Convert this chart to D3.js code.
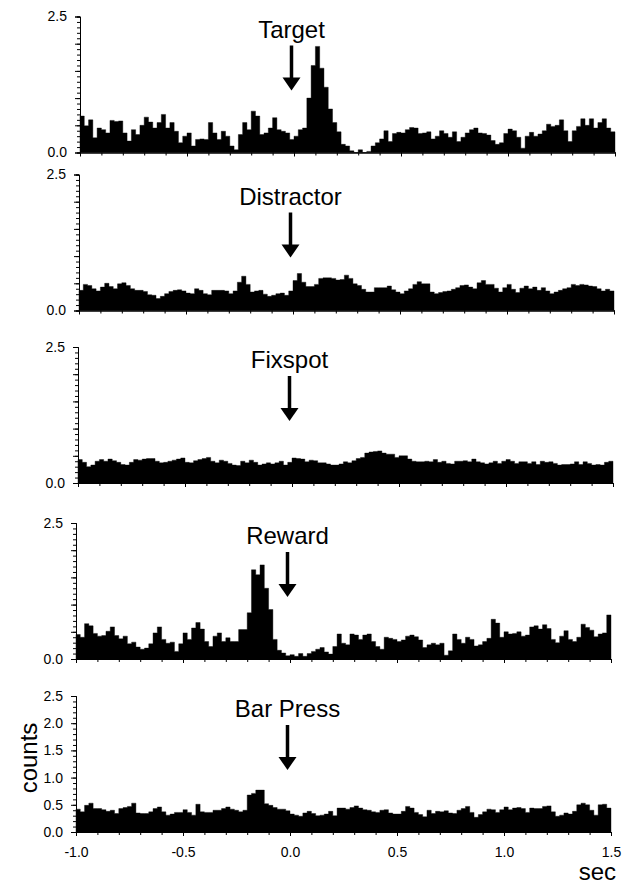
<!DOCTYPE html>
<html>
<head>
<meta charset="utf-8">
<script src="https://cdn.jsdelivr.net/npm/d3@7"></script>
<style>
  body { margin: 0; background: white; }
  svg { display: block; }
  text { font-family: "Liberation Sans", Arial, Helvetica, sans-serif; }
</style>
</head>
<body>
<div id="holder"></div>
<script>
// panel titles
var titles = ["Target", "Distractor", "Fixspot", "Reward", "Bar Press"];

// bin start times (20 ms bins from -1.0 to 1.5 sec)
var binWidth = 0.02;

// counts per bin, one array per panel
var target = [0.67,0.49,0.6,0.27,0.45,0.42,0.36,0.59,0.57,0.58,0.36,0.21,0.42,0.33,0.5,0.65,0.56,0.45,0.55,0.7,
  0.45,0.55,0.39,0.18,0.3,0.36,0.12,0.24,0.25,0.24,0.55,0.36,0.24,0.39,0.3,0.12,0.05,0.33,0.55,0.42,
  0.76,0.67,0.33,0.36,0.45,0.64,0.42,0.39,0.36,0.24,0.3,0.42,0.45,1.0,1.6,1.95,
  1.55,1.2,0.8,0.55,0.38,0.15,0.12,0.03,0.0,0.05,0.0,0.02,0.12,0.18,0.25,0.4,0.2,0.35,0.37,0.36,
  0.42,0.46,0.45,0.35,0.36,0.38,0.25,0.3,0.4,0.35,0.28,0.38,0.2,0.28,0.36,0.42,0.45,0.36,0.35,0.32,
  0.22,0.15,0.18,0.35,0.43,0.4,0.28,0.08,0.3,0.37,0.3,0.34,0.4,0.52,0.48,0.5,0.6,0.4,0.2,0.4,
  0.48,0.62,0.5,0.62,0.45,0.55,0.62,0.45,0.38];

var distractor = [0.37,0.48,0.46,0.4,0.36,0.43,0.5,0.44,0.4,0.49,0.51,0.46,0.4,0.37,0.37,0.35,0.29,0.28,0.22,0.26,
  0.31,0.35,0.37,0.38,0.36,0.32,0.31,0.4,0.37,0.31,0.29,0.37,0.37,0.37,0.36,0.31,0.36,0.52,0.63,0.48,
  0.34,0.36,0.37,0.3,0.26,0.28,0.31,0.32,0.28,0.36,0.55,0.68,0.52,0.44,0.44,0.48,
  0.59,0.6,0.6,0.59,0.56,0.57,0.65,0.59,0.49,0.46,0.39,0.34,0.34,0.42,0.42,0.42,0.45,0.38,0.34,0.31,
  0.36,0.4,0.48,0.53,0.49,0.49,0.34,0.31,0.33,0.35,0.36,0.39,0.42,0.46,0.47,0.43,0.4,0.51,0.55,0.48,
  0.48,0.41,0.34,0.42,0.48,0.39,0.33,0.41,0.45,0.4,0.43,0.37,0.42,0.36,0.31,0.34,0.37,0.4,0.42,0.48,
  0.46,0.48,0.47,0.45,0.44,0.4,0.36,0.39,0.36];

var fixspot = [0.43,0.38,0.3,0.33,0.4,0.43,0.4,0.44,0.41,0.38,0.34,0.33,0.38,0.43,0.42,0.44,0.45,0.45,0.4,0.37,
  0.38,0.4,0.42,0.44,0.46,0.38,0.37,0.41,0.43,0.45,0.47,0.4,0.37,0.42,0.4,0.36,0.33,0.32,0.4,0.37,
  0.42,0.38,0.33,0.35,0.37,0.35,0.37,0.4,0.33,0.38,0.46,0.45,0.44,0.39,0.42,0.41,
  0.37,0.37,0.35,0.33,0.33,0.35,0.39,0.37,0.41,0.45,0.47,0.55,0.57,0.58,0.59,0.55,0.53,0.53,0.47,0.5,
  0.5,0.44,0.4,0.39,0.39,0.4,0.39,0.43,0.38,0.4,0.36,0.35,0.4,0.4,0.41,0.39,0.44,0.39,0.37,0.35,
  0.37,0.4,0.36,0.4,0.43,0.4,0.36,0.39,0.39,0.36,0.39,0.34,0.4,0.38,0.39,0.36,0.33,0.34,0.34,0.35,
  0.39,0.34,0.39,0.36,0.33,0.34,0.33,0.38,0.4];

var reward = [0.45,0.4,0.65,0.61,0.47,0.42,0.43,0.51,0.59,0.43,0.37,0.42,0.28,0.31,0.22,0.18,0.2,0.28,0.48,0.59,
  0.36,0.29,0.31,0.14,0.28,0.48,0.36,0.57,0.67,0.55,0.32,0.23,0.42,0.48,0.32,0.39,0.32,0.32,0.54,0.54,
  0.85,1.64,1.55,1.73,1.3,0.91,0.36,0.16,0.11,0.06,0.08,0.05,0.1,0.05,0.1,0.14,
  0.18,0.21,0.13,0.09,0.23,0.46,0.29,0.26,0.46,0.44,0.36,0.44,0.46,0.32,0.23,0.18,0.4,0.38,0.36,0.32,
  0.35,0.42,0.44,0.41,0.35,0.21,0.26,0.29,0.26,0.29,0.07,0.15,0.46,0.36,0.29,0.4,0.36,0.24,0.26,0.32,
  0.38,0.73,0.66,0.4,0.5,0.46,0.47,0.5,0.42,0.44,0.59,0.61,0.55,0.63,0.56,0.36,0.3,0.42,0.52,0.36,
  0.32,0.4,0.64,0.58,0.53,0.41,0.46,0.48,0.81];

var barPress = [0.42,0.37,0.49,0.53,0.43,0.43,0.41,0.38,0.4,0.34,0.43,0.45,0.47,0.53,0.35,0.34,0.34,0.37,0.43,0.46,
  0.37,0.31,0.33,0.36,0.36,0.41,0.36,0.31,0.51,0.37,0.36,0.36,0.4,0.4,0.43,0.46,0.42,0.4,0.37,0.4,
  0.68,0.71,0.77,0.77,0.52,0.49,0.45,0.42,0.42,0.39,0.33,0.31,0.29,0.35,0.38,0.34,
  0.3,0.31,0.33,0.38,0.3,0.44,0.44,0.42,0.45,0.48,0.44,0.41,0.4,0.37,0.36,0.4,0.41,0.35,0.33,0.33,
  0.38,0.47,0.44,0.36,0.32,0.28,0.4,0.34,0.38,0.37,0.39,0.35,0.34,0.4,0.43,0.47,0.36,0.27,0.32,0.37,
  0.42,0.41,0.36,0.41,0.46,0.41,0.44,0.45,0.43,0.36,0.44,0.43,0.43,0.47,0.48,0.37,0.29,0.31,0.35,0.33,
  0.38,0.5,0.53,0.5,0.4,0.31,0.5,0.51,0.44];

var series = [target, distractor, fixspot, reward, barPress];

// axis ticks
var yMinorTicks = d3.range(0, 26).map(function(i) { return i / 10; });
var yMajorTicks = [0, 0.5, 1.0, 1.5, 2.0, 2.5];
var xMinorTicks = d3.range(-10, 16).map(function(i) { return i / 10; });
var xMajorTicks = [-1.0, -0.5, 0.0, 0.5, 1.0, 1.5];

// layout: where each panel sits on the page (scan is a little skewed)
var panelTop = [16.5, 174.5, 347, 523, 696];
var panelLeft = [80, 79, 78, 76, 76];
var labelShift = [0, 9, 0, 0, 0];
var panelW = 535, panelH = 136;

var svg = d3.select("#holder")
            .append("svg")
            .attr("width", 637)
            .attr("height", 887);

// plain hyphen for negatives, like the original figure
var fmt = d3.formatLocale({decimal: ".", thousands: ",", grouping: [3], currency: ["", ""], minus: "-"}).format(".1f");

series.forEach(function(values, p) {
  var last = p === series.length - 1;

  var g = svg.append("g")
             .attr("transform", "translate(" + panelLeft[p] + "," + panelTop[p] + ")");

  var x = d3.scaleLinear().domain([-1.0, 1.5]).range([0, panelW]);
  var y = d3.scaleLinear().domain([0, 2.5]).range([panelH, 0]);

  // step histogram
  var pts = values.map(function(v, i) { return [-1.0 + i * binWidth, v]; });
  pts.push([1.5, values[values.length - 1]]);

  var area = d3.area()
               .x(function(d) { return x(d[0]); })
               .y0(y(0))
               .y1(function(d) { return y(d[1]); })
               .curve(d3.curveStepAfter);

  g.append("path")
   .datum(pts)
   .attr("d", area)
   .attr("fill", "black")
   .attr("stroke", "black")
   .attr("stroke-width", 0.4);

  // y axis, minor then major ticks
  g.append("g")
   .call(d3.axisLeft(y).tickValues(yMinorTicks).tickSize(3).tickFormat(""));

  g.append("g")
   .call(d3.axisLeft(y).tickValues(yMajorTicks).tickSize(5).tickPadding(8)
           .tickFormat(function(d) {
             if (last || d === 0 || d === 2.5) return fmt(d);
             return "";
           }));

  // x axis along the baseline
  g.append("g")
   .attr("transform", "translate(0," + panelH + ")")
   .call(d3.axisBottom(x).tickValues(xMinorTicks).tickSize(3).tickSizeOuter(0).tickFormat(""));

  g.append("g")
   .attr("transform", "translate(0," + panelH + ")")
   .call(d3.axisBottom(x).tickValues(xMajorTicks).tickSize(4).tickSizeOuter(0).tickPadding(11)
           .tickFormat(function(d) { return last ? fmt(d) : ""; }));

  g.selectAll(".tick text")
   .attr("font-size", 14)
   .attr("font-family", "Liberation Sans, Arial, sans-serif")
   .attr("fill", "black");

  // title and arrow at time zero
  var ax = x(0) - 2.5;
  g.append("text")
   .attr("x", ax)
   .attr("y", 21 + labelShift[p])
   .attr("text-anchor", "middle")
   .attr("font-size", 24)
   .text(titles[p]);

  var shaftTop = 29 + labelShift[p], tip = 74 + labelShift[p];
  g.append("line")
   .attr("x1", ax).attr("x2", ax)
   .attr("y1", shaftTop).attr("y2", tip - 10)
   .attr("stroke", "black")
   .attr("stroke-width", 3.5);

  g.append("path")
   .attr("d", "M" + (ax - 9) + "," + (tip - 13) + "L" + (ax + 9) + "," + (tip - 13) + "L" + ax + "," + tip + "Z")
   .attr("fill", "black");
});

// axis titles
svg.append("text")
   .attr("transform", "translate(37,758) rotate(-90)")
   .attr("text-anchor", "middle")
   .attr("font-size", 24)
   .text("counts");

svg.append("text")
   .attr("x", 616)
   .attr("y", 880)
   .attr("text-anchor", "end")
   .attr("font-size", 24)
   .text("sec");
</script>
</body>
</html>
